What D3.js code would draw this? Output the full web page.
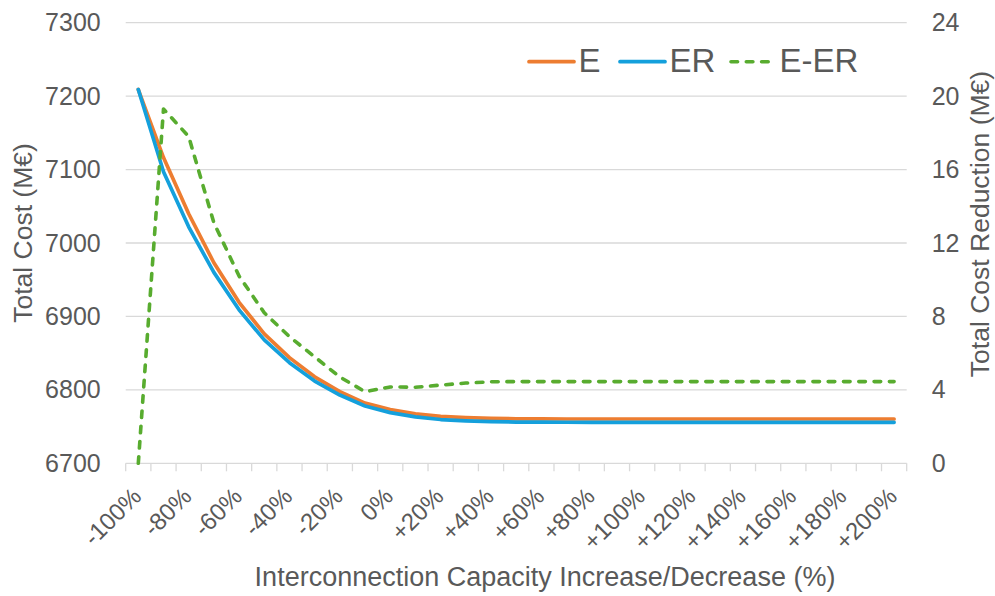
<!DOCTYPE html>
<html>
<head>
<meta charset="utf-8">
<script src="https://cdn.jsdelivr.net/npm/d3@7"></script>
<style>
  html, body { margin: 0; padding: 0; background: #fff; }
  svg { display: block; font-family: "Liberation Sans", Arial, sans-serif; }
</style>
</head>
<body>
<div id="chart"></div>
<script>
// categories on the x axis (every 10%)
const categories = ["-100%", "-90%", "-80%", "-70%", "-60%", "-50%", "-40%", "-30%", "-20%", "-10%",
  "0%", "+10%", "+20%", "+30%", "+40%", "+50%", "+60%", "+70%", "+80%", "+90%",
  "+100%", "+110%", "+120%", "+130%", "+140%", "+150%", "+160%", "+170%", "+180%", "+190%", "+200%"];

// total cost, M€ (left axis)
const seriesE = [7209, 7116.3, 7039.8, 6973.1, 6919.2, 6876.2, 6843.9, 6817.8, 6797.7, 6781.9,
  6773.2, 6767.4, 6763.9, 6762.3, 6761.2, 6760.6, 6760.4, 6760.3, 6760.3, 6760.3,
  6760.3, 6760.3, 6760.3, 6760.3, 6760.3, 6760.3, 6760.3, 6760.3, 6760.3, 6760.3, 6760.3];
const seriesER = [7209, 7097, 7022, 6960, 6909, 6868, 6837, 6812, 6793, 6778,
  6769, 6763.3, 6759.6, 6757.9, 6756.8, 6756.2, 6756.0, 6755.9, 6755.8, 6755.8,
  6755.8, 6755.8, 6755.8, 6755.8, 6755.8, 6755.8, 6755.8, 6755.8, 6755.8, 6755.8, 6755.8];

// total cost reduction E-ER, M€ (right axis)
const seriesDiff = [0, 19.3, 17.8, 13.1, 10.2, 8.2, 6.9, 5.8, 4.7, 3.9,
  4.16, 4.14, 4.26, 4.37, 4.44, 4.45, 4.45, 4.45, 4.45, 4.45,
  4.45, 4.45, 4.45, 4.45, 4.45, 4.45, 4.45, 4.45, 4.45, 4.45, 4.45];

const leftTicks = [6700, 6800, 6900, 7000, 7100, 7200, 7300];
const rightTicks = [0, 4, 8, 12, 16, 20, 24];
const xLabels = ["-100%", "-80%", "-60%", "-40%", "-20%", "0%", "+20%", "+40%", "+60%", "+80%",
  "+100%", "+120%", "+140%", "+160%", "+180%", "+200%"];

const seriesNames = ["E", "ER", "E-ER"];

const width = 995, height = 596;
const plot = { left: 125.7, right: 906.7, top: 22.7, bottom: 463.3 };
const textColor = "#595959";
const gridColor = "#d9d9d9";
const colors = { E: "#ed7d31", ER: "#14a0dc", "E-ER": "#58ac2f" };

const svg = d3.select("#chart").append("svg")
  .attr("width", width)
  .attr("height", height);

const xBand = d3.scaleBand().domain(categories).range([plot.left, plot.right]).paddingInner(0).paddingOuter(0);
const x = d => xBand(d) + xBand.bandwidth() / 2;
const yLeft = d3.scaleLinear().domain([6700, 7300]).range([plot.bottom, plot.top]);
const yRight = d3.scaleLinear().domain([0, 24]).range([plot.bottom, plot.top]);

// gridlines
svg.append("g")
  .selectAll("line")
  .data(leftTicks.slice(1))
  .join("line")
    .attr("x1", plot.left)
    .attr("x2", plot.right)
    .attr("y1", d => yLeft(d))
    .attr("y2", d => yLeft(d))
    .attr("stroke", gridColor)
    .attr("stroke-width", 1.3);

// x axis line and tick marks between categories
svg.append("line")
  .attr("x1", plot.left).attr("x2", plot.right)
  .attr("y1", plot.bottom).attr("y2", plot.bottom)
  .attr("stroke", gridColor).attr("stroke-width", 1.3);

svg.append("g")
  .selectAll("line")
  .data(categories.map(c => xBand(c)).concat([plot.right]))
  .join("line")
    .attr("x1", d => d).attr("x2", d => d)
    .attr("y1", plot.bottom).attr("y2", plot.bottom + 8)
    .attr("stroke", gridColor).attr("stroke-width", 1.3);

// x tick labels (rotated)
svg.append("g")
  .selectAll("text")
  .data(xLabels)
  .join("text")
    .attr("transform", d => `translate(${x(d) - 1.5},${492}) rotate(-45)`)
    .attr("text-anchor", "end")
    .attr("dy", "0.35em")
    .attr("fill", textColor)
    .style("font-size", "24px")
    .text(d => d);

// left axis labels
const leftAxis = svg.append("g")
  .attr("transform", `translate(${plot.left},0)`)
  .call(d3.axisLeft(yLeft).tickValues(leftTicks).tickFormat(d3.format("d")).tickSize(0).tickPadding(25));
leftAxis.select(".domain").remove();
leftAxis.selectAll("text")
  .attr("fill", textColor)
  .style("font-size", "25px")
  .style("font-family", "'Liberation Sans', Arial, sans-serif");

// right axis labels
const rightAxis = svg.append("g")
  .attr("transform", `translate(${plot.right},0)`)
  .call(d3.axisRight(yRight).tickValues(rightTicks).tickFormat(d3.format("d")).tickSize(0).tickPadding(25));
rightAxis.select(".domain").remove();
rightAxis.selectAll("text")
  .attr("fill", textColor)
  .style("font-size", "25px")
  .style("font-family", "'Liberation Sans', Arial, sans-serif");

// lines
const lineLeft = d3.line()
  .x((d, i) => x(categories[i]))
  .y(d => yLeft(d));
const lineRight = d3.line()
  .x((d, i) => x(categories[i]))
  .y(d => yRight(d));

svg.append("path")
  .datum(seriesE)
  .attr("fill", "none")
  .attr("stroke", colors.E)
  .attr("stroke-width", 3.7)
  .attr("stroke-linejoin", "round")
  .attr("stroke-linecap", "round")
  .attr("d", lineLeft);

svg.append("path")
  .datum(seriesER)
  .attr("fill", "none")
  .attr("stroke", colors.ER)
  .attr("stroke-width", 3.7)
  .attr("stroke-linejoin", "round")
  .attr("stroke-linecap", "round")
  .attr("d", lineLeft);

svg.append("path")
  .datum(seriesDiff)
  .attr("fill", "none")
  .attr("stroke", colors["E-ER"])
  .attr("stroke-width", 3.6)
  .attr("stroke-linejoin", "round")
  .attr("stroke-linecap", "round")
  .attr("stroke-dasharray", "6.6,8.7")
  .attr("d", lineRight);

// axis titles
svg.append("text")
  .attr("transform", "translate(32,233) rotate(-90)")
  .attr("text-anchor", "middle")
  .attr("fill", textColor)
  .style("font-size", "26.5px")
  .text("Total Cost (M€)");

svg.append("text")
  .attr("transform", "translate(989,224) rotate(-90)")
  .attr("text-anchor", "middle")
  .attr("fill", textColor)
  .style("font-size", "26.5px")
  .text("Total Cost Reduction (M€)");

svg.append("text")
  .attr("x", 545)
  .attr("y", 586)
  .attr("text-anchor", "middle")
  .attr("fill", textColor)
  .style("font-size", "27px")
  .text("Interconnection Capacity Increase/Decrease (%)");

// legend
const legendX = [529, 620, 731];
const legend = svg.append("g");
seriesNames.forEach((name, i) => {
  const g = legend.append("g").attr("transform", `translate(${legendX[i]},0)`);
  g.append("line")
    .attr("x1", 0).attr("x2", name === "E-ER" ? 40 : 45)
    .attr("y1", 61.7).attr("y2", 61.7)
    .attr("stroke", colors[name])
    .attr("stroke-width", name === "E-ER" ? 3.6 : 3.7)
    .attr("stroke-linecap", "round")
    .attr("stroke-dasharray", name === "E-ER" ? "6.6,8.7" : null);
  g.append("text")
    .attr("x", name === "E-ER" ? 48.5 : 49.5)
    .attr("y", 72)
    .attr("fill", textColor)
    .style("font-size", "33px")
    .text(name);
});
</script>
</body>
</html>
